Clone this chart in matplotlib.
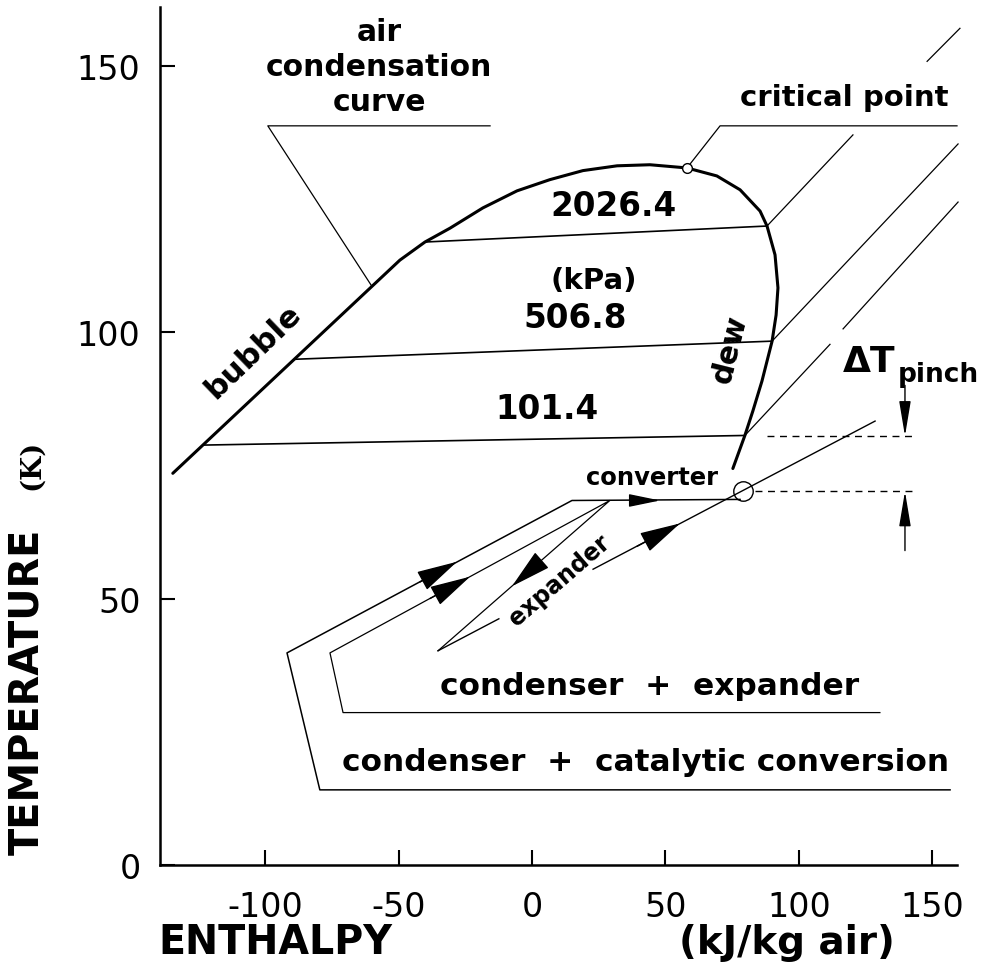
import matplotlib
matplotlib.use("Agg")
from matplotlib import pyplot as plt

plt.rcParams["axes.unicode_minus"] = False

# axes
X_LIM = (-139.4, 159.3)
Y_LIM = (0, 161.0)
X_TICKS = [-100, -50, 0, 50, 100, 150]
Y_TICKS = [0, 50, 100, 150]

# air condensation curve: bubble line -> critical point -> dew line
DOME_H = [-134.6, -49.5, -40.1, -30.7, -18.4, -5.6, 6.7, 19.1, 31.9,
          44.2, 58.1, 69.3, 78.0, 85.5, 88.1, 91.1, 92.2, 91.5, 90.0, 86.2,
          82.8, 79.8, 75.3]
DOME_T = [73.5, 113.5, 116.9, 119.5, 123.3, 126.5, 128.6, 130.3, 131.2,
          131.4, 130.8, 129.3, 126.7, 122.7, 119.9, 114.5, 108.3, 103.2, 98.3,
          90.8, 85.2, 80.6, 74.4]
CRIT_H, CRIT_T = 58.1, 130.8

# isobars (kPa)
ISOBAR_LABELS = ["2026.4", "506.8", "101.4"]
ISOBAR_H = [(-40.1, 88.1), (-88.8, 90.0), (-122.6, 79.8)]
ISOBAR_T = [(116.9, 119.9), (94.9, 98.3), (78.8, 80.6)]
ISOBAR_LABEL_H = [30.4, 16.1, 5.6]
ISOBAR_LABEL_T = [123.7, 102.8, 85.7]

# heating lines leaving the dew curve
EXT_H = [(88.1, 120.3), (90.0, 159.7), (79.8, 111.7), (116.6, 159.7),
         (148.1, 160.4)]
EXT_T = [(119.9, 137.0), (98.3, 135.3), (80.6, 97.7), (100.6, 124.4),
         (150.8, 157.0)]

# condenser + catalytic conversion loop
OUTER_H = [156.7, -79.5, -91.8, 15.0, 78.0]
OUTER_T = [14.1, 14.1, 39.8, 68.4, 68.6]
# condenser + expander loop (ends at bottom of expander)
INNER_H = [130.4, -70.8, -75.7, 29.2, -35.2]
INNER_T = [28.6, 28.6, 39.8, 68.4, 40.2]
# return line from expander through converter point
RETURN_H = [(-35.2, -12.4), (22.9, 128.6)]
RETURN_T = [(40.2, 46.2), (55.5, 83.3)]
CONV_H, CONV_T = 79.1, 70.1

# flow arrows: (tip, base)
ARROWS = [((-28.1, 56.9), (-42.0, 53.1)),
          ((-23.2, 54.1), (-38.2, 50.0)),
          ((-7.5, 52.3), (3.0, 56.9)),
          ((55.5, 64.1), (39.4, 59.8))]
CONV_ARROW = ((48.0, 68.4), (37.9, 68.4))

# pinch marks
PINCH_T = [80.5, 70.1]
PINCH_H0 = [88.1, 83.6]
PINCH_H1 = [144.3, 143.6]
PINCH_ARROW_H = 139.8
PINCH_ARROWS = [((PINCH_ARROW_H, 80.5), (PINCH_ARROW_H, 90.0)),
                ((PINCH_ARROW_H, 70.1), (PINCH_ARROW_H, 59.0))]


def draw_arrow(ax, tip, base, hl=1.3, hw=0.33):
    """ Draw a filled flow arrow head with its tip at tip """
    ax.annotate("", xy=tip, xytext=base,
                arrowprops=dict(arrowstyle="-|>,head_length=%.2f,head_width=%.2f"
                                % (hl, hw), color="k", lw=1.0,
                                shrinkA=0, shrinkB=0, mutation_scale=20))
# enddef draw_arrow() #


def main(out_file="out.png"):
    fig = plt.figure(figsize=(9.87, 9.70), dpi=100)
    ax = fig.add_axes([160 / 987, 1 - 866 / 970, 797 / 987, 858 / 970])
    ax.set_xlim(*X_LIM)
    ax.set_ylim(*Y_LIM)
    for side in ["top", "right"]:
        ax.spines[side].set_visible(False)
    for side in ["left", "bottom"]:
        ax.spines[side].set_linewidth(1.8)
    ax.set_xticks(X_TICKS)
    ax.set_yticks(Y_TICKS)
    ax.tick_params(direction="in", length=11, width=1.5, labelsize=24)
    ax.tick_params(axis="x", pad=18)
    ax.tick_params(axis="y", pad=14)

    # dome
    ax.plot(DOME_H, DOME_T, color="k", lw=2.2, solid_capstyle="round",
            solid_joinstyle="round")
    ax.plot([CRIT_H], [CRIT_T], marker="o", ms=7, mfc="white", mec="k",
            mew=1.0, zorder=5)

    # isobars and labels
    for hh, tt in zip(ISOBAR_H, ISOBAR_T):
        ax.plot(hh, tt, color="k", lw=1.2)
    for lab, hh, tt in zip(ISOBAR_LABELS, ISOBAR_LABEL_H, ISOBAR_LABEL_T):
        ax.text(hh, tt, lab, fontsize=23.5, fontweight="bold", ha="center",
                va="center")
    ax.text(23.2, 109.8, "(kPa)", fontsize=21, fontweight="bold",
            ha="center", va="center")

    for hh, tt in zip(EXT_H, EXT_T):
        ax.plot(hh, tt, color="k", lw=0.9, clip_on=False)

    # leaders
    ax.plot([-60.0, -99.0, -15.7], [108.6, 138.7, 138.7], color="k", lw=0.9)
    ax.plot([CRIT_H, 70.5, 159.3], [CRIT_T, 138.7, 138.7], color="k",
            lw=0.9, clip_on=False)
    ax.text(-57.2, 156.4, "air", fontsize=21.5, fontweight="bold",
            ha="center", va="center")
    ax.text(-57.2, 149.8, "condensation", fontsize=21.5, fontweight="bold",
            ha="center", va="center")
    ax.text(-57.2, 143.2, "curve", fontsize=21.5, fontweight="bold",
            ha="center", va="center")
    ax.text(116.9, 144.2, "critical point", fontsize=21, fontweight="bold",
            ha="center", va="center")
    ax.text(-104.6, 96.6, "bubble", fontsize=22.5, fontweight="bold",
            ha="center", va="center", rotation=44, rotation_mode="anchor")
    ax.text(74.2, 97.0, "dew", fontsize=21.5, fontweight="bold",
            ha="center", va="center", rotation=76, rotation_mode="anchor")

    # process loops
    ax.plot(OUTER_H, OUTER_T, color="k", lw=1.1, clip_on=False)
    ax.plot(INNER_H, INNER_T, color="k", lw=0.9)
    for hh, tt in zip(RETURN_H, RETURN_T):
        ax.plot(hh, tt, color="k", lw=1.0)
    ax.plot([CONV_H], [CONV_T], marker="o", ms=14, mfc="none", mec="k",
            mew=1.0)
    for tip, base in ARROWS:
        draw_arrow(ax, tip, base)
    draw_arrow(ax, CONV_ARROW[0], CONV_ARROW[1], hl=0.97, hw=0.2)

    ax.text(45.0, 72.9, "converter", fontsize=17.5, fontweight="bold",
            ha="center", va="center")
    ax.text(10.5, 53.6, "expander", fontsize=17, fontweight="bold",
            ha="center", va="center", rotation=41, rotation_mode="anchor")
    ax.text(44.2, 33.6, "condenser  +  expander", fontsize=22.5,
            fontweight="bold", ha="center", va="center")
    ax.text(42.4, 19.4, "condenser  +  catalytic conversion", fontsize=22.5,
            fontweight="bold", ha="center", va="center")

    # pinch
    for tt, h0, h1 in zip(PINCH_T, PINCH_H0, PINCH_H1):
        ax.plot([h0, h1], [tt, tt], color="k", lw=1.0, ls=(0, (5, 4)))
    for tip, base in PINCH_ARROWS:
        draw_arrow(ax, tip, base, hl=1.08, hw=0.18)
    ax.text(116.6, 92.7, "\u0394T", fontsize=26, fontweight="bold",
            ha="left", va="baseline")
    ax.text(137.2, 90.8, "pinch", fontsize=19, fontweight="bold",
            ha="left", va="baseline", clip_on=False)

    # axis titles
    fig.text(158 / 987, 1 - 943 / 970, "ENTHALPY", fontsize=28.5,
             fontweight="bold", ha="left", va="center")
    fig.text(787 / 987, 1 - 943 / 970, "(kJ/kg air)", fontsize=28,
             fontweight="bold", ha="center", va="center")
    fig.text(0.028, 1 - 692 / 970, "TEMPERATURE", fontsize=28.7,
             fontweight="bold", ha="center", va="center", rotation=90)
    fig.text(0.032, 1 - 465 / 970, "(K)", fontsize=20, fontweight="bold",
             family="DejaVu Serif", ha="center", va="center", rotation=90)

    fig.savefig(out_file, dpi=100)
# enddef main() #


if __name__ == "__main__":
    main()
# endif #
